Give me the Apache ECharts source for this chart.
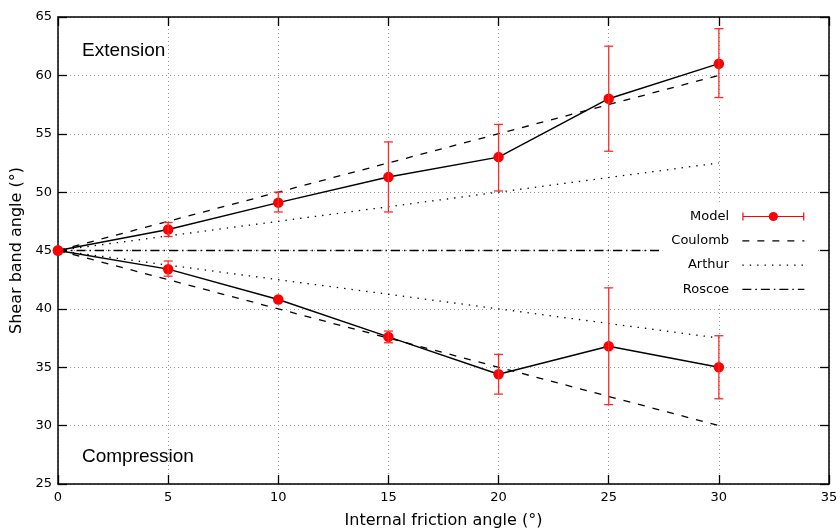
<!DOCTYPE html>
<html>
<head>
<meta charset="utf-8">
<script src="https://cdn.jsdelivr.net/npm/echarts@6/dist/echarts.min.js"></script>
<style>
  html, body { margin: 0; padding: 0; background: #fff; }
  #chart { width: 840px; height: 532px; }
</style>
</head>
<body>
<div id="chart"></div>
<script>
// Internal friction angle (degrees)
const phi = [0, 5, 10, 15, 20, 25, 30];

// Model: shear band angle in extension, with error range
const extMean = [45, 46.8, 49.1, 51.3, 53.0, 58.0, 61.0];
const extLow  = [45, 46.2, 48.3, 48.3, 50.1, 53.5, 58.1];
const extHigh = [45, 47.4, 50.0, 54.3, 55.8, 62.5, 64.0];

// Model: shear band angle in compression, with error range
const compMean = [45, 43.4, 40.8, 37.6, 34.4, 36.8, 35.0];
const compLow  = [45, 42.8, 40.8, 37.1, 32.7, 31.8, 32.3];
const compHigh = [45, 44.1, 40.8, 38.1, 36.1, 41.8, 37.7];

// Classical theories, evaluated at the ends of the friction-angle range
const theoryPhi   = [0, 30];
const coulombExt  = [45, 60];
const coulombComp = [45, 30];
const arthurExt   = [45, 52.5];
const arthurComp  = [45, 37.5];
const roscoe      = [45, 45];

// Axis ranges and tick step
const xRange = [0, 35], xStep = 5;
const yRange = [25, 65], yStep = 5;

const pairs = (xs, ys) => xs.map((x, i) => [x, ys[i]]);
const triples = (xs, lo, hi) => xs.map((x, i) => [x, lo[i], hi[i]]);

const TICK_FONT = 'DejaVu Sans';
const RED = '#ff0000';
const BAR_RED = '#ff2a2a';

function errorBars(api) {
  const x = api.value(0), lo = api.value(1), hi = api.value(2);
  if (Math.abs(hi - lo) < 0.05) return null;
  const p1 = api.coord([x, lo]);
  const p2 = api.coord([x, hi]);
  const half = 4.5;
  const style = { stroke: BAR_RED, lineWidth: 1.3 };
  return {
    type: 'group',
    children: [
      { type: 'line', shape: { x1: p1[0], y1: p1[1], x2: p2[0], y2: p2[1] }, style },
      { type: 'line', shape: { x1: p1[0] - half, y1: p1[1], x2: p1[0] + half, y2: p1[1] }, style },
      { type: 'line', shape: { x1: p2[0] - half, y1: p2[1], x2: p2[0] + half, y2: p2[1] }, style }
    ]
  };
}

// Legend key for the model: red bar with end caps and a dot
const modelIcon = 'path://M0,2 H1.2 V5.4 H26.6 V6.6 H1.2 V10 H0 Z ' +
  'M35.4,5.4 H60.8 V2 H62 V10 H60.8 V6.6 H35.4 Z ' +
  'M26.4,6 A4.6,4.6 0 1,1 35.6,6 A4.6,4.6 0 1,1 26.4,6 Z';

const axisLineStyle = { color: '#000', width: 1.5 };
const gridLine = { show: true, lineStyle: { color: '#9a9a9a', width: 1, type: [1, 3] } };
const noSymbol = { color: 'transparent', borderColor: 'transparent', borderWidth: 0, opacity: 0 };

const modelLine = (name, data) => ({
  name, type: 'line', data,
  symbol: 'circle', symbolSize: 10.5,
  itemStyle: { color: RED },
  lineStyle: { color: '#000', width: 1.4 },
  z: 4, silent: true, animation: false
});

const theoryLine = (name, data, dash) => ({
  name, type: 'line', data,
  symbol: 'none',
  itemStyle: { color: '#000' },
  lineStyle: { color: '#000', width: 1.3, type: dash },
  z: 3, silent: true, animation: false
});

const errSeries = (data) => ({
  name: 'Model', type: 'custom', data,
  encode: { x: 0, y: [1, 2] },
  renderItem: (params, api) => errorBars(api),
  z: 5, silent: true, animation: false
});

const chart = echarts.init(document.getElementById('chart'), null, { renderer: 'canvas' });

chart.setOption({
  animation: false,
  backgroundColor: '#fff',
  grid: { left: 58, right: 11, top: 17, bottom: 48, containLabel: false, outerBoundsMode: 'none' },
  xAxis: [
    {
      type: 'value', min: xRange[0], max: xRange[1], interval: xStep,
      name: 'Internal friction angle (°)', nameLocation: 'middle', nameGap: 29,
      nameTextStyle: { fontFamily: TICK_FONT, fontSize: 16, color: '#000' },
      axisLine: { show: true, onZero: false, lineStyle: axisLineStyle },
      axisTick: { show: true, inside: true, length: 9, lineStyle: { color: '#000', width: 1.3 } },
      axisLabel: { fontFamily: TICK_FONT, fontSize: 13, color: '#000', margin: 7 },
      splitLine: gridLine
    },
    {
      type: 'value', position: 'top', min: xRange[0], max: xRange[1], interval: xStep,
      axisLine: { show: true, onZero: false, lineStyle: axisLineStyle },
      axisTick: { show: true, inside: true, length: 9, lineStyle: { color: '#000', width: 1.3 } },
      axisLabel: { show: false },
      splitLine: { show: false }
    }
  ],
  yAxis: [
    {
      type: 'value', min: yRange[0], max: yRange[1], interval: yStep,
      name: 'Shear band angle (°)', nameLocation: 'middle', nameGap: 26,
      nameTextStyle: { fontFamily: TICK_FONT, fontSize: 16, color: '#000' },
      axisLine: { show: true, onZero: false, lineStyle: axisLineStyle },
      axisTick: { show: true, inside: true, length: 9, lineStyle: { color: '#000', width: 1.3 } },
      axisLabel: { fontFamily: TICK_FONT, fontSize: 13, color: '#000', margin: 6 },
      splitLine: gridLine
    },
    {
      type: 'value', position: 'right', min: yRange[0], max: yRange[1], interval: yStep,
      axisLine: { show: true, onZero: false, lineStyle: axisLineStyle },
      axisTick: { show: true, inside: true, length: 9, lineStyle: { color: '#000', width: 1.3 } },
      axisLabel: { show: false },
      splitLine: { show: false }
    }
  ],
  legend: {
    orient: 'vertical',
    right: 25, top: 205,
    align: 'right',
    backgroundColor: '#fff',
    padding: [5, 10, 8, 9],
    itemWidth: 62, itemHeight: 12, itemGap: 11.3,
    selectedMode: false,
    formatter: (name) => name + '  ',
    textStyle: { fontFamily: TICK_FONT, fontSize: 13, color: '#000', lineHeight: 12 },
    lineStyle: { width: 1.3 },
    data: [
      { name: 'Model', icon: modelIcon, itemStyle: { color: RED, borderWidth: 0 } },
      { name: 'Coulomb', itemStyle: noSymbol },
      { name: 'Arthur', itemStyle: noSymbol },
      { name: 'Roscoe', itemStyle: noSymbol }
    ]
  },
  graphic: [
    { type: 'text', left: 82, top: 41, silent: true,
      style: { text: 'Extension', font: '19px "Liberation Sans"', fill: '#000' } },
    { type: 'text', left: 82, top: 447, silent: true,
      style: { text: 'Compression', font: '19px "Liberation Sans"', fill: '#000' } }
  ],
  series: [
    theoryLine('Coulomb', pairs(theoryPhi, coulombExt), [7, 8]),
    theoryLine('Coulomb', pairs(theoryPhi, coulombComp), [7, 8]),
    theoryLine('Arthur', pairs(theoryPhi, arthurExt), [1.4, 6]),
    theoryLine('Arthur', pairs(theoryPhi, arthurComp), [1.4, 6]),
    theoryLine('Roscoe', pairs(theoryPhi, roscoe), [9, 4, 1.5, 4]),
    modelLine('Model', pairs(phi, extMean)),
    modelLine('Model', pairs(phi, compMean)),
    errSeries(triples(phi, extLow, extHigh)),
    errSeries(triples(phi, compLow, compHigh))
  ]
});
</script>
</body>
</html>
